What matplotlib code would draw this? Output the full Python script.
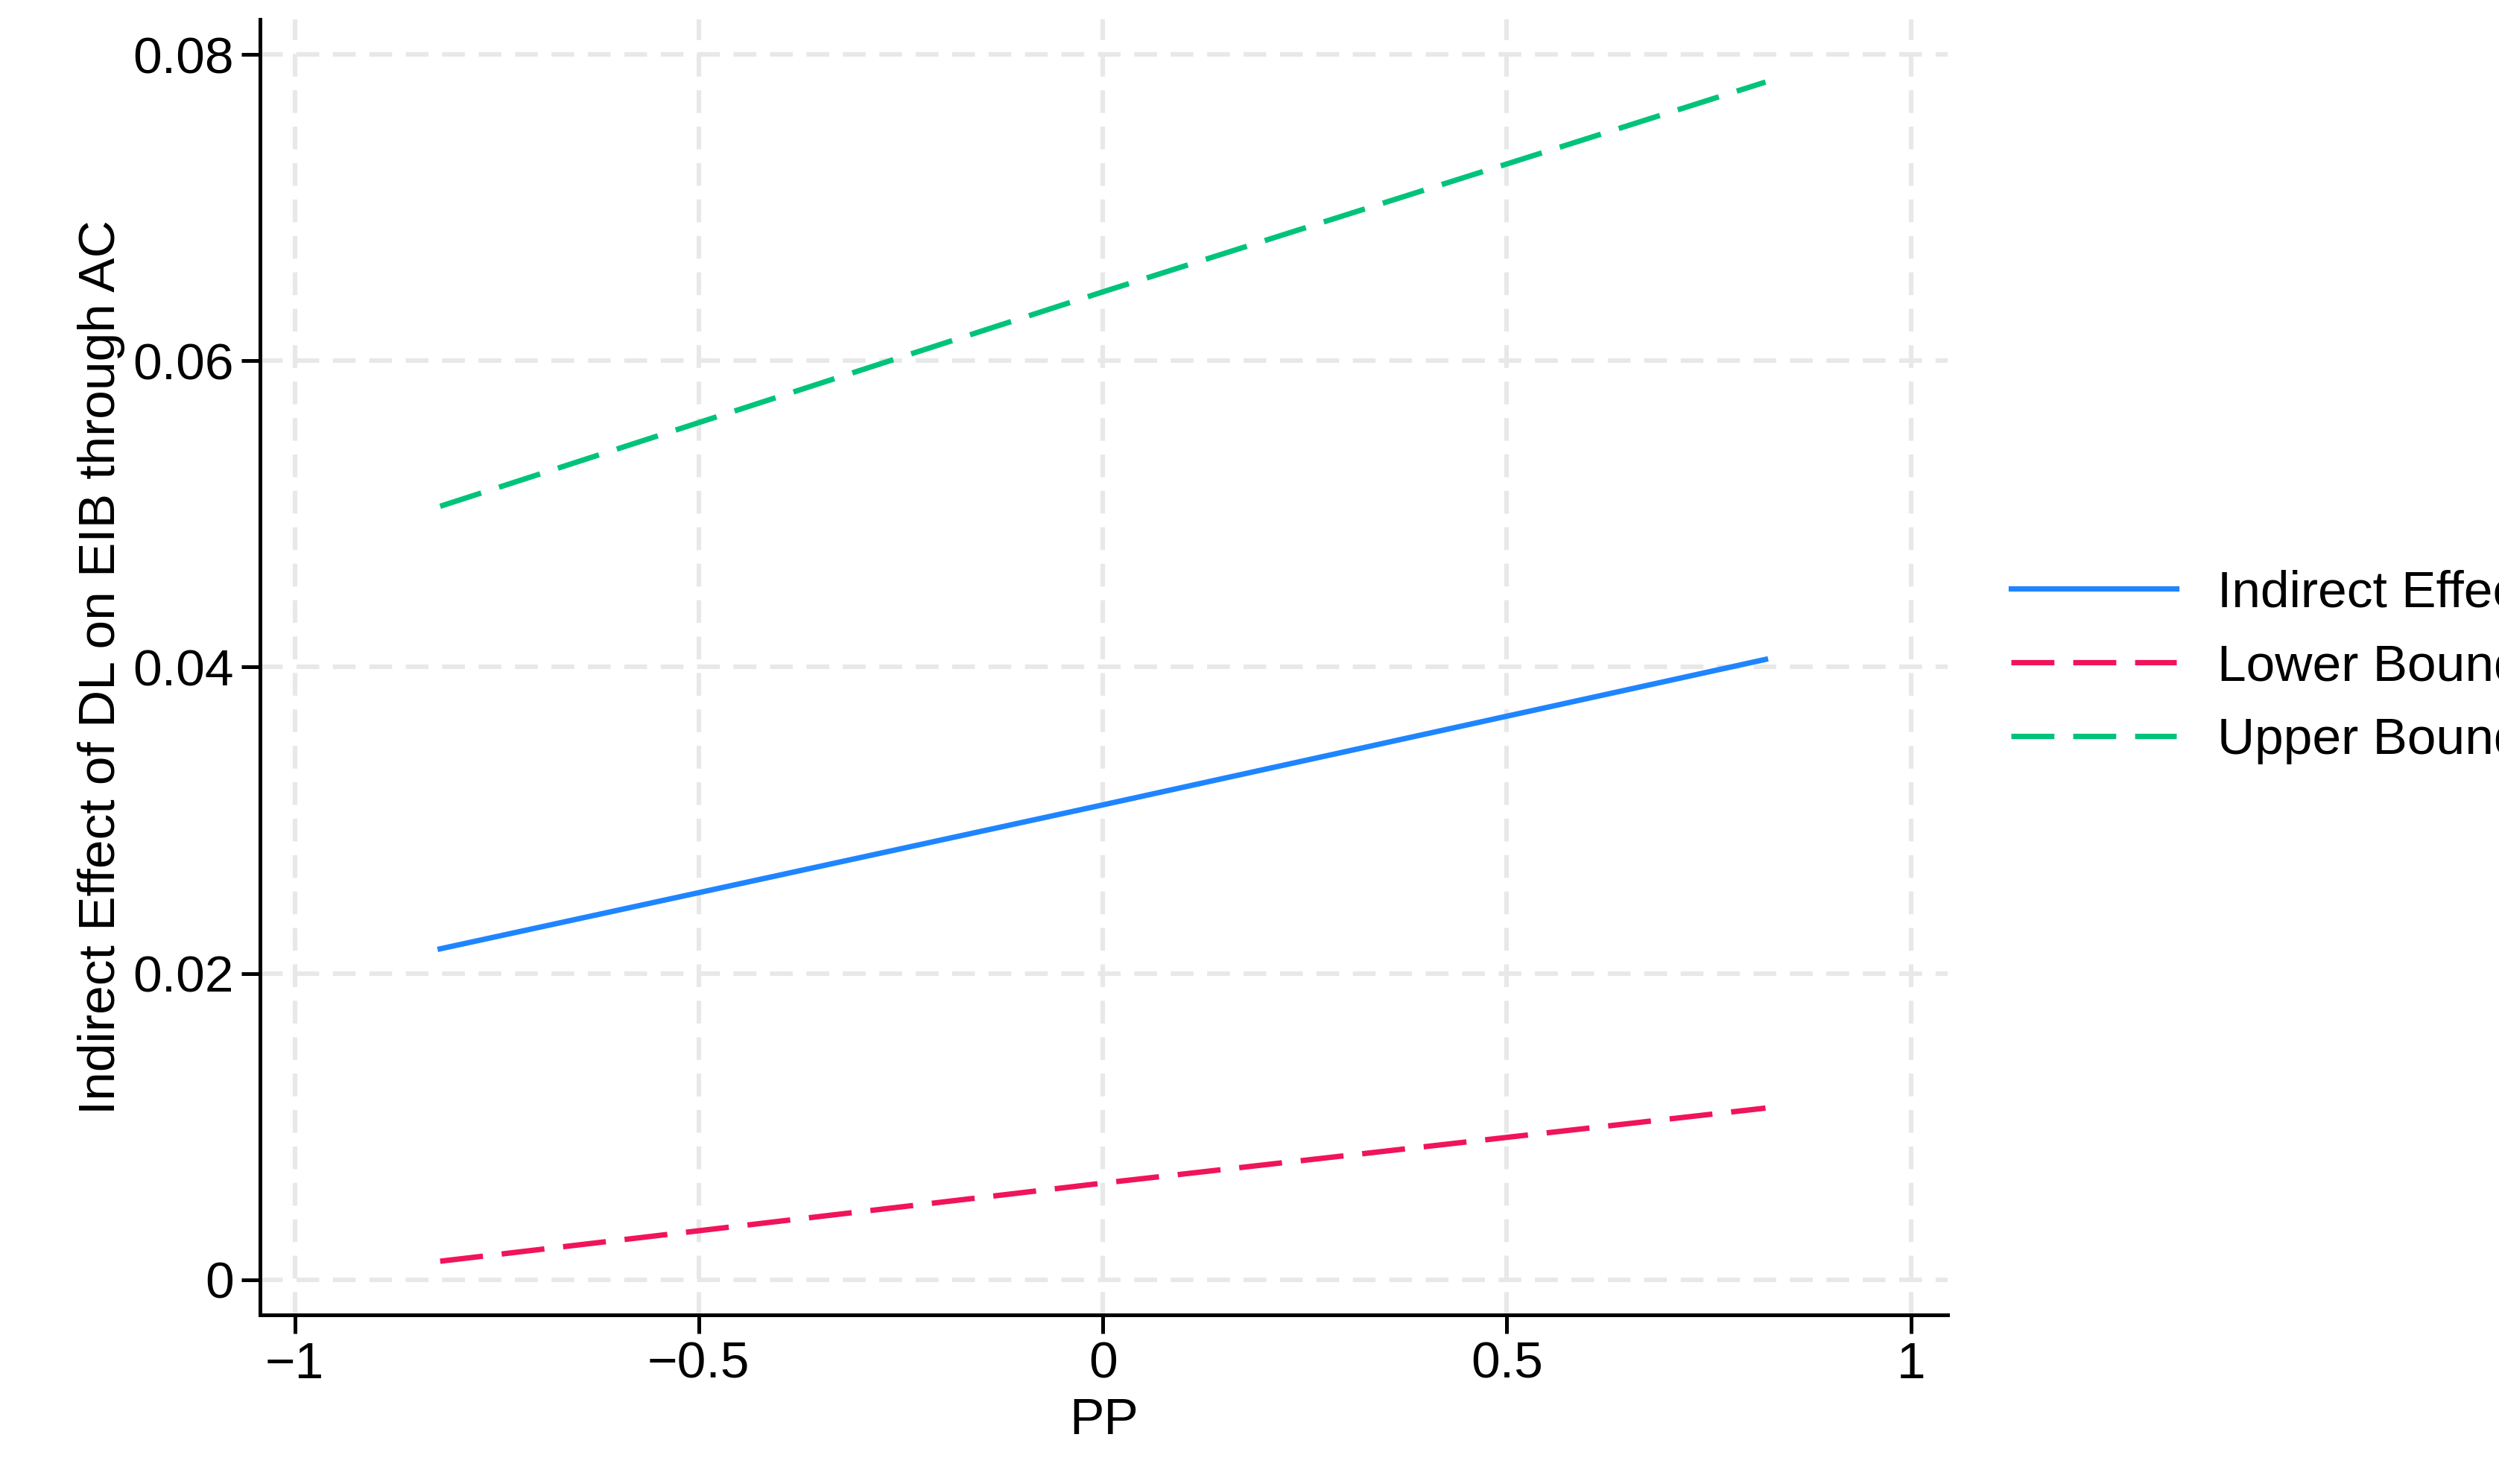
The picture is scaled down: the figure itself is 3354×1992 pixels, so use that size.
import matplotlib
matplotlib.use("Agg")
import matplotlib.pyplot as plt

plt.rcParams["font.family"] = ["Liberation Sans", "DejaVu Sans"]

pp = [-0.82, 0.0, 0.82]
indirect = [0.0216, 0.0310, 0.0405]
lower = [0.0012, 0.0063, 0.0112]
upper = [0.0505, 0.0645, 0.0782]

fig = plt.figure(figsize=(16.775, 9.96), dpi=200)
ax = fig.add_axes([0.104, 0.114, 0.675, 0.873])

ax.plot(pp, indirect, color="#1f85ff", lw=2.6, label="Indirect Effect")
ax.plot(pp, lower, color="#f0145a", lw=2.6, dashes=(8, 3.5), label="Lower Bound")
ax.plot(pp, upper, color="#00c37a", lw=2.6, dashes=(8, 3.5), label="Upper Bound")

ax.set_xlim(-1.043, 1.045)
ax.set_ylim(-0.0023, 0.0823)
ax.set_xticks([-1, -0.5, 0, 0.5, 1])
ax.set_xticklabels(["\u22121", "\u22120.5", "0", "0.5", "1"])
ax.set_yticks([0, 0.02, 0.04, 0.06, 0.08])
ax.set_yticklabels(["0", "0.02", "0.04", "0.06", "0.08"])
ax.grid(True, color="#e8e8e8", lw=2.2, dashes=(5, 3))
ax.set_axisbelow(True)
for s in ("top", "right"):
    ax.spines[s].set_visible(False)
for s in ("left", "bottom"):
    ax.spines[s].set_linewidth(1.8)
ax.tick_params(labelsize=25, width=1.8, length=9)
ax.set_xlabel("PP", fontsize=25)
ax.set_ylabel("Indirect Effect of DL on EIB through AC", fontsize=25)

ax.legend(loc="center left", bbox_to_anchor=(1.01, 0.5), frameon=False,
          fontsize=25, handlelength=3.2, labelspacing=0.5, handletextpad=0.8)

fig.savefig("out.png", dpi=200)
